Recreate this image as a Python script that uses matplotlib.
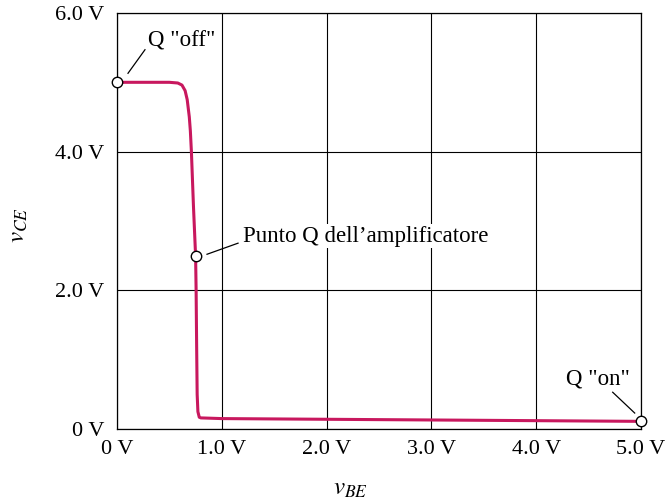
import matplotlib
matplotlib.use("Agg")
import matplotlib.pyplot as plt

plt.rcParams['font.family'] = ['Liberation Serif', 'DejaVu Serif']
plt.rcParams['mathtext.fontset'] = 'stix'

# transfer characteristic
vbe = [0.0, 0.50, 0.58, 0.62, 0.65, 0.67, 0.69, 0.70, 0.71, 0.72, 0.73, 0.74,
       0.75, 0.755, 0.76, 0.765, 0.772, 0.785, 0.80, 1.0, 2.0, 3.0, 4.0, 5.0]
vce = [5.0, 5.0, 4.99, 4.96, 4.88, 4.75, 4.5, 4.3, 4.0, 3.6, 3.2, 2.85,
       2.5, 2.0, 1.2, 0.5, 0.25, 0.17, 0.16, 0.15, 0.14, 0.13, 0.12, 0.11]

q_points = [(0.0, 5.0), (0.75, 2.5), (5.0, 0.11)]
xticks = [0, 1, 2, 3, 4, 5]
xlabels = ['0 V', '1.0 V', '2.0 V', '3.0 V', '4.0 V', '5.0 V']
yticks = [0, 2, 4, 6]
ylabels = ['0 V', '2.0 V', '4.0 V', '6.0 V']

fig = plt.figure(figsize=(6.67, 4.99), dpi=100)
ax = fig.add_axes([0.1754, 0.1403, 0.7856, 0.8337])

ax.plot(vbe, vce, color='#c8185e', lw=2.2, solid_capstyle='round', zorder=3)
for x, y in q_points:
    ax.plot(x, y, 'o', ms=7.5, mfc='white', mec='black', mew=1.0,
            clip_on=False, zorder=5)

ax.set_xlim(0, 5)
ax.set_ylim(0, 6)
ax.set_xticks(xticks)
ax.set_xticklabels(xlabels)
ax.set_yticks(yticks)
ax.set_yticklabels(ylabels)
ax.tick_params(length=0, labelsize=16)
ax.tick_params(axis='x', pad=8)
ax.tick_params(axis='y', pad=9)
ax.grid(True, color='black', lw=0.8)
for s in ax.spines.values():
    s.set_linewidth(0.9)

ax.set_xlabel('$v_{BE}$', fontsize=18, va='center')
ax.xaxis.set_label_coords(0.445, -0.144)
ax.set_ylabel('$v_{CE}$', fontsize=18, va='center')
ax.yaxis.set_label_coords(-0.187, 0.49)

# leader lines and labels
lk = dict(color='black', lw=0.9, zorder=4)
ax.plot([0.105, 0.267], [5.13, 5.47], **lk)
ax.text(0.296, 5.60, 'Q "off"', fontsize=16.5, ha='left', va='center')

ax.plot([0.859, 1.155], [2.52, 2.68], **lk)
ax.text(1.20, 2.78, 'Punto Q dell\u2019amplificatore', fontsize=16.5,
        ha='left', va='center', zorder=4,
        bbox=dict(facecolor='white', edgecolor='none', pad=1))

ax.plot([4.73, 4.94], [0.53, 0.23], **lk)
ax.text(4.59, 0.72, 'Q "on"', fontsize=16.5, ha='center', va='center')

fig.savefig('out.png', dpi=100)
